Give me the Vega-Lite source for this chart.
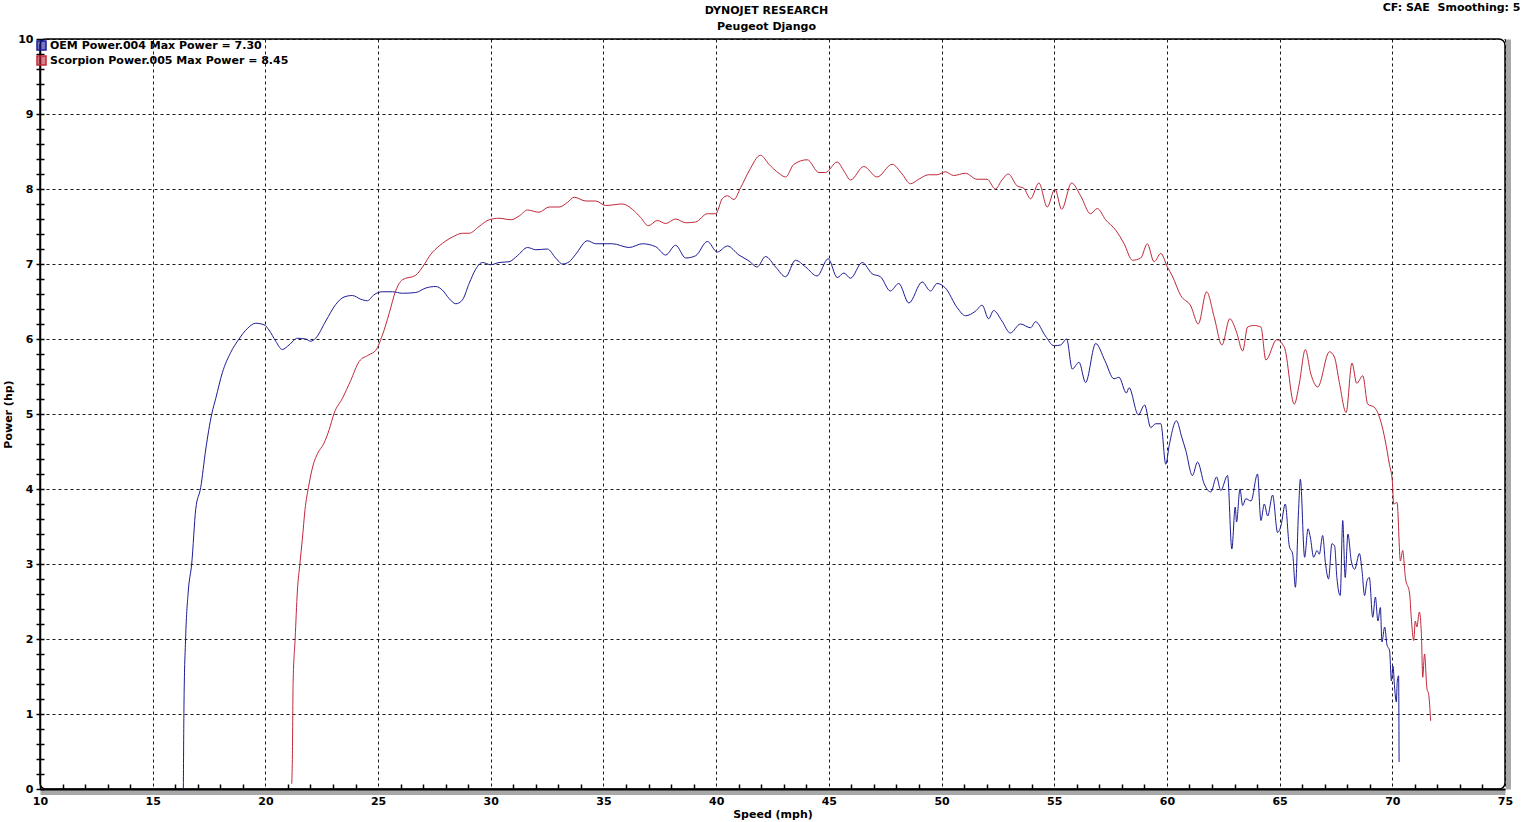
{
  "$schema": "https://vega.github.io/schema/vega-lite/v6.json",
  "description": "Dynojet power run, Peugeot Django: OEM vs Scorpion exhaust",
  "autosize": {"type": "none"},
  "width": 1465,
  "height": 750,
  "padding": {"left": 40, "top": 39, "right": 25, "bottom": 33},
  "background": "white",
  "title": {
    "text": ["DYNOJET RESEARCH", "Peugeot Django"],
    "anchor": "middle",
    "dx": -6,
    "offset": -31,
    "font": "DejaVu Sans",
    "fontSize": 11,
    "fontWeight": "bold",
    "lineHeight": 16,
    "color": "black"
  },
  "config": {
    "font": "DejaVu Sans",
    "view": {"stroke": "black", "strokeWidth": 1.5, "cornerRadius": 6, "fill": "white"}
  },
  "datasets": {
    "runs": [
      {"run": "OEM", "speed": 16.36, "power": 0},
      {"run": "OEM", "speed": 16.39, "power": 1.16},
      {"run": "OEM", "speed": 16.46, "power": 2.0},
      {"run": "OEM", "speed": 16.58, "power": 2.64},
      {"run": "OEM", "speed": 16.73, "power": 3.0},
      {"run": "OEM", "speed": 16.91, "power": 3.73},
      {"run": "OEM", "speed": 17.13, "power": 4.02},
      {"run": "OEM", "speed": 17.35, "power": 4.52},
      {"run": "OEM", "speed": 17.62, "power": 5.0},
      {"run": "OEM", "speed": 17.8, "power": 5.21},
      {"run": "OEM", "speed": 18.09, "power": 5.55},
      {"run": "OEM", "speed": 18.46, "power": 5.82},
      {"run": "OEM", "speed": 18.83, "power": 6.0},
      {"run": "OEM", "speed": 19.2, "power": 6.14},
      {"run": "OEM", "speed": 19.57, "power": 6.21},
      {"run": "OEM", "speed": 19.94, "power": 6.19},
      {"run": "OEM", "speed": 20.16, "power": 6.12},
      {"run": "OEM", "speed": 20.46, "power": 5.97},
      {"run": "OEM", "speed": 20.75, "power": 5.86},
      {"run": "OEM", "speed": 21.05, "power": 5.92},
      {"run": "OEM", "speed": 21.42, "power": 6.01},
      {"run": "OEM", "speed": 21.79, "power": 6.0},
      {"run": "OEM", "speed": 22.01, "power": 5.97},
      {"run": "OEM", "speed": 22.23, "power": 6.01},
      {"run": "OEM", "speed": 22.68, "power": 6.24},
      {"run": "OEM", "speed": 23.12, "power": 6.46},
      {"run": "OEM", "speed": 23.49, "power": 6.56},
      {"run": "OEM", "speed": 23.86, "power": 6.58},
      {"run": "OEM", "speed": 24.23, "power": 6.53},
      {"run": "OEM", "speed": 24.53, "power": 6.51},
      {"run": "OEM", "speed": 24.82, "power": 6.59},
      {"run": "OEM", "speed": 25.19, "power": 6.63},
      {"run": "OEM", "speed": 25.64, "power": 6.63},
      {"run": "OEM", "speed": 26.08, "power": 6.61},
      {"run": "OEM", "speed": 26.67, "power": 6.62},
      {"run": "OEM", "speed": 27.12, "power": 6.68},
      {"run": "OEM", "speed": 27.56, "power": 6.7},
      {"run": "OEM", "speed": 27.86, "power": 6.65},
      {"run": "OEM", "speed": 28.15, "power": 6.54},
      {"run": "OEM", "speed": 28.45, "power": 6.47},
      {"run": "OEM", "speed": 28.74, "power": 6.52},
      {"run": "OEM", "speed": 29.04, "power": 6.74},
      {"run": "OEM", "speed": 29.33, "power": 6.93},
      {"run": "OEM", "speed": 29.63, "power": 7.02},
      {"run": "OEM", "speed": 30.0, "power": 6.99},
      {"run": "OEM", "speed": 30.37, "power": 7.02},
      {"run": "OEM", "speed": 30.81, "power": 7.03},
      {"run": "OEM", "speed": 31.18, "power": 7.11},
      {"run": "OEM", "speed": 31.63, "power": 7.22},
      {"run": "OEM", "speed": 32.0, "power": 7.19},
      {"run": "OEM", "speed": 32.51, "power": 7.2},
      {"run": "OEM", "speed": 32.88, "power": 7.08},
      {"run": "OEM", "speed": 33.18, "power": 7.0},
      {"run": "OEM", "speed": 33.48, "power": 7.03},
      {"run": "OEM", "speed": 33.77, "power": 7.13},
      {"run": "OEM", "speed": 34.29, "power": 7.31},
      {"run": "OEM", "speed": 34.66, "power": 7.27},
      {"run": "OEM", "speed": 35.4, "power": 7.27},
      {"run": "OEM", "speed": 36.14, "power": 7.22},
      {"run": "OEM", "speed": 36.73, "power": 7.27},
      {"run": "OEM", "speed": 37.32, "power": 7.23},
      {"run": "OEM", "speed": 37.76, "power": 7.12},
      {"run": "OEM", "speed": 38.2, "power": 7.25},
      {"run": "OEM", "speed": 38.65, "power": 7.08},
      {"run": "OEM", "speed": 39.09, "power": 7.11},
      {"run": "OEM", "speed": 39.61, "power": 7.3},
      {"run": "OEM", "speed": 40.05, "power": 7.16},
      {"run": "OEM", "speed": 40.5, "power": 7.24},
      {"run": "OEM", "speed": 41.01, "power": 7.12},
      {"run": "OEM", "speed": 41.46, "power": 7.04},
      {"run": "OEM", "speed": 41.82, "power": 6.96},
      {"run": "OEM", "speed": 42.19, "power": 7.1},
      {"run": "OEM", "speed": 42.64, "power": 6.96},
      {"run": "OEM", "speed": 43.08, "power": 6.83},
      {"run": "OEM", "speed": 43.52, "power": 7.05},
      {"run": "OEM", "speed": 43.97, "power": 6.96},
      {"run": "OEM", "speed": 44.48, "power": 6.84},
      {"run": "OEM", "speed": 44.97, "power": 7.07},
      {"run": "OEM", "speed": 45.37, "power": 6.82},
      {"run": "OEM", "speed": 45.67, "power": 6.88},
      {"run": "OEM", "speed": 45.96, "power": 6.81},
      {"run": "OEM", "speed": 46.48, "power": 7.02},
      {"run": "OEM", "speed": 46.92, "power": 6.87},
      {"run": "OEM", "speed": 47.29, "power": 6.83},
      {"run": "OEM", "speed": 47.73, "power": 6.64},
      {"run": "OEM", "speed": 48.1, "power": 6.74},
      {"run": "OEM", "speed": 48.55, "power": 6.48},
      {"run": "OEM", "speed": 49.14, "power": 6.76},
      {"run": "OEM", "speed": 49.51, "power": 6.64},
      {"run": "OEM", "speed": 49.8, "power": 6.74},
      {"run": "OEM", "speed": 50.17, "power": 6.68},
      {"run": "OEM", "speed": 50.69, "power": 6.42},
      {"run": "OEM", "speed": 51.06, "power": 6.31},
      {"run": "OEM", "speed": 51.5, "power": 6.37},
      {"run": "OEM", "speed": 51.8, "power": 6.45},
      {"run": "OEM", "speed": 52.09, "power": 6.27},
      {"run": "OEM", "speed": 52.31, "power": 6.38},
      {"run": "OEM", "speed": 52.68, "power": 6.24},
      {"run": "OEM", "speed": 53.05, "power": 6.08},
      {"run": "OEM", "speed": 53.5, "power": 6.2},
      {"run": "OEM", "speed": 53.95, "power": 6.15},
      {"run": "OEM", "speed": 54.17, "power": 6.23},
      {"run": "OEM", "speed": 54.61, "power": 6.04},
      {"run": "OEM", "speed": 54.99, "power": 5.91},
      {"run": "OEM", "speed": 55.28, "power": 5.92},
      {"run": "OEM", "speed": 55.55, "power": 6.0},
      {"run": "OEM", "speed": 55.8, "power": 5.6},
      {"run": "OEM", "speed": 56.1, "power": 5.69},
      {"run": "OEM", "speed": 56.39, "power": 5.42},
      {"run": "OEM", "speed": 56.84, "power": 5.94},
      {"run": "OEM", "speed": 57.25, "power": 5.71},
      {"run": "OEM", "speed": 57.65, "power": 5.47},
      {"run": "OEM", "speed": 57.87, "power": 5.49},
      {"run": "OEM", "speed": 58.2, "power": 5.28},
      {"run": "OEM", "speed": 58.32, "power": 5.35},
      {"run": "OEM", "speed": 58.73, "power": 4.99},
      {"run": "OEM", "speed": 59.01, "power": 5.12},
      {"run": "OEM", "speed": 59.28, "power": 4.82},
      {"run": "OEM", "speed": 59.5, "power": 4.87},
      {"run": "OEM", "speed": 59.73, "power": 4.87},
      {"run": "OEM", "speed": 59.95, "power": 4.33},
      {"run": "OEM", "speed": 60.1, "power": 4.58},
      {"run": "OEM", "speed": 60.42, "power": 4.91},
      {"run": "OEM", "speed": 60.66, "power": 4.69},
      {"run": "OEM", "speed": 60.84, "power": 4.51},
      {"run": "OEM", "speed": 61.13, "power": 4.18},
      {"run": "OEM", "speed": 61.36, "power": 4.36},
      {"run": "OEM", "speed": 61.65, "power": 4.07},
      {"run": "OEM", "speed": 61.95, "power": 3.96},
      {"run": "OEM", "speed": 62.2, "power": 4.16},
      {"run": "OEM", "speed": 62.39, "power": 3.98},
      {"run": "OEM", "speed": 62.69, "power": 4.18},
      {"run": "OEM", "speed": 62.88, "power": 3.2},
      {"run": "OEM", "speed": 63.03, "power": 3.76},
      {"run": "OEM", "speed": 63.09, "power": 3.56},
      {"run": "OEM", "speed": 63.24, "power": 4.0},
      {"run": "OEM", "speed": 63.36, "power": 3.78},
      {"run": "OEM", "speed": 63.5, "power": 3.87},
      {"run": "OEM", "speed": 63.73, "power": 3.84},
      {"run": "OEM", "speed": 64.02, "power": 4.2},
      {"run": "OEM", "speed": 64.17, "power": 3.58},
      {"run": "OEM", "speed": 64.32, "power": 3.8},
      {"run": "OEM", "speed": 64.47, "power": 3.64},
      {"run": "OEM", "speed": 64.69, "power": 3.92},
      {"run": "OEM", "speed": 64.91, "power": 3.42},
      {"run": "OEM", "speed": 65.06, "power": 3.51},
      {"run": "OEM", "speed": 65.25, "power": 3.8},
      {"run": "OEM", "speed": 65.43, "power": 3.24},
      {"run": "OEM", "speed": 65.58, "power": 3.13},
      {"run": "OEM", "speed": 65.7, "power": 2.69},
      {"run": "OEM", "speed": 65.84, "power": 3.71},
      {"run": "OEM", "speed": 65.92, "power": 4.13},
      {"run": "OEM", "speed": 66.11, "power": 3.09},
      {"run": "OEM", "speed": 66.26, "power": 3.47},
      {"run": "OEM", "speed": 66.36, "power": 3.36},
      {"run": "OEM", "speed": 66.51, "power": 3.09},
      {"run": "OEM", "speed": 66.66, "power": 3.18},
      {"run": "OEM", "speed": 66.76, "power": 3.13},
      {"run": "OEM", "speed": 66.91, "power": 3.38},
      {"run": "OEM", "speed": 67.03, "power": 3.02},
      {"run": "OEM", "speed": 67.17, "power": 2.8},
      {"run": "OEM", "speed": 67.32, "power": 3.27},
      {"run": "OEM", "speed": 67.44, "power": 3.24},
      {"run": "OEM", "speed": 67.54, "power": 2.82},
      {"run": "OEM", "speed": 67.69, "power": 2.58},
      {"run": "OEM", "speed": 67.8, "power": 3.58},
      {"run": "OEM", "speed": 67.91, "power": 2.82},
      {"run": "OEM", "speed": 68.03, "power": 3.4},
      {"run": "OEM", "speed": 68.18, "power": 3.04},
      {"run": "OEM", "speed": 68.33, "power": 2.93},
      {"run": "OEM", "speed": 68.54, "power": 3.14},
      {"run": "OEM", "speed": 68.65, "power": 2.93},
      {"run": "OEM", "speed": 68.77, "power": 2.58},
      {"run": "OEM", "speed": 68.88, "power": 2.78},
      {"run": "OEM", "speed": 68.98, "power": 2.82},
      {"run": "OEM", "speed": 69.13, "power": 2.29},
      {"run": "OEM", "speed": 69.25, "power": 2.56},
      {"run": "OEM", "speed": 69.36, "power": 2.24},
      {"run": "OEM", "speed": 69.47, "power": 2.42},
      {"run": "OEM", "speed": 69.54, "power": 1.96},
      {"run": "OEM", "speed": 69.66, "power": 2.16},
      {"run": "OEM", "speed": 69.76, "power": 1.93},
      {"run": "OEM", "speed": 69.88, "power": 1.84},
      {"run": "OEM", "speed": 69.96, "power": 1.44},
      {"run": "OEM", "speed": 70.03, "power": 1.64},
      {"run": "OEM", "speed": 70.1, "power": 1.36},
      {"run": "OEM", "speed": 70.18, "power": 1.16},
      {"run": "OEM", "speed": 70.22, "power": 1.44},
      {"run": "OEM", "speed": 70.28, "power": 1.51},
      {"run": "OEM", "speed": 70.3, "power": 0.36},
      {"run": "Scorpion", "speed": 21.17, "power": 0.07},
      {"run": "Scorpion", "speed": 21.2, "power": 0.47},
      {"run": "Scorpion", "speed": 21.23, "power": 1.41},
      {"run": "Scorpion", "speed": 21.32, "power": 2.0},
      {"run": "Scorpion", "speed": 21.42, "power": 2.64},
      {"run": "Scorpion", "speed": 21.53, "power": 3.0},
      {"run": "Scorpion", "speed": 21.64, "power": 3.33},
      {"run": "Scorpion", "speed": 21.76, "power": 3.73},
      {"run": "Scorpion", "speed": 21.91, "power": 4.02},
      {"run": "Scorpion", "speed": 22.12, "power": 4.32},
      {"run": "Scorpion", "speed": 22.31, "power": 4.47},
      {"run": "Scorpion", "speed": 22.6, "power": 4.61},
      {"run": "Scorpion", "speed": 22.83, "power": 4.79},
      {"run": "Scorpion", "speed": 23.05, "power": 5.01},
      {"run": "Scorpion", "speed": 23.42, "power": 5.21},
      {"run": "Scorpion", "speed": 23.79, "power": 5.45},
      {"run": "Scorpion", "speed": 24.16, "power": 5.7},
      {"run": "Scorpion", "speed": 24.6, "power": 5.79},
      {"run": "Scorpion", "speed": 24.9, "power": 5.85},
      {"run": "Scorpion", "speed": 25.19, "power": 6.05},
      {"run": "Scorpion", "speed": 25.49, "power": 6.34},
      {"run": "Scorpion", "speed": 25.78, "power": 6.64},
      {"run": "Scorpion", "speed": 26.08, "power": 6.79},
      {"run": "Scorpion", "speed": 26.67, "power": 6.85},
      {"run": "Scorpion", "speed": 27.04, "power": 6.99},
      {"run": "Scorpion", "speed": 27.34, "power": 7.13},
      {"run": "Scorpion", "speed": 27.71, "power": 7.24},
      {"run": "Scorpion", "speed": 28.3, "power": 7.36},
      {"run": "Scorpion", "speed": 28.74, "power": 7.41},
      {"run": "Scorpion", "speed": 29.04, "power": 7.41},
      {"run": "Scorpion", "speed": 29.48, "power": 7.5},
      {"run": "Scorpion", "speed": 29.93, "power": 7.59},
      {"run": "Scorpion", "speed": 30.37, "power": 7.61},
      {"run": "Scorpion", "speed": 30.89, "power": 7.59},
      {"run": "Scorpion", "speed": 31.26, "power": 7.64},
      {"run": "Scorpion", "speed": 31.63, "power": 7.72},
      {"run": "Scorpion", "speed": 32.14, "power": 7.69},
      {"run": "Scorpion", "speed": 32.59, "power": 7.76},
      {"run": "Scorpion", "speed": 33.03, "power": 7.76},
      {"run": "Scorpion", "speed": 33.4, "power": 7.82},
      {"run": "Scorpion", "speed": 33.7, "power": 7.89},
      {"run": "Scorpion", "speed": 34.22, "power": 7.84},
      {"run": "Scorpion", "speed": 34.66, "power": 7.84},
      {"run": "Scorpion", "speed": 35.1, "power": 7.78},
      {"run": "Scorpion", "speed": 35.84, "power": 7.8},
      {"run": "Scorpion", "speed": 36.28, "power": 7.73},
      {"run": "Scorpion", "speed": 36.65, "power": 7.62},
      {"run": "Scorpion", "speed": 36.99, "power": 7.51},
      {"run": "Scorpion", "speed": 37.39, "power": 7.58},
      {"run": "Scorpion", "speed": 37.76, "power": 7.54},
      {"run": "Scorpion", "speed": 38.2, "power": 7.6},
      {"run": "Scorpion", "speed": 38.65, "power": 7.55},
      {"run": "Scorpion", "speed": 39.09, "power": 7.56},
      {"run": "Scorpion", "speed": 39.61, "power": 7.67},
      {"run": "Scorpion", "speed": 39.98, "power": 7.67},
      {"run": "Scorpion", "speed": 40.27, "power": 7.87},
      {"run": "Scorpion", "speed": 40.5, "power": 7.91},
      {"run": "Scorpion", "speed": 40.79, "power": 7.86},
      {"run": "Scorpion", "speed": 41.09, "power": 8.02},
      {"run": "Scorpion", "speed": 41.46, "power": 8.24},
      {"run": "Scorpion", "speed": 41.97, "power": 8.45},
      {"run": "Scorpion", "speed": 42.34, "power": 8.33},
      {"run": "Scorpion", "speed": 42.78, "power": 8.21},
      {"run": "Scorpion", "speed": 43.08, "power": 8.16},
      {"run": "Scorpion", "speed": 43.45, "power": 8.33},
      {"run": "Scorpion", "speed": 44.04, "power": 8.39},
      {"run": "Scorpion", "speed": 44.56, "power": 8.22},
      {"run": "Scorpion", "speed": 44.85, "power": 8.22},
      {"run": "Scorpion", "speed": 45.37, "power": 8.36},
      {"run": "Scorpion", "speed": 45.67, "power": 8.24},
      {"run": "Scorpion", "speed": 45.96, "power": 8.12},
      {"run": "Scorpion", "speed": 46.55, "power": 8.3},
      {"run": "Scorpion", "speed": 47.14, "power": 8.16},
      {"run": "Scorpion", "speed": 47.81, "power": 8.33},
      {"run": "Scorpion", "speed": 48.25, "power": 8.2},
      {"run": "Scorpion", "speed": 48.62, "power": 8.07},
      {"run": "Scorpion", "speed": 48.99, "power": 8.13},
      {"run": "Scorpion", "speed": 49.43, "power": 8.19},
      {"run": "Scorpion", "speed": 49.8, "power": 8.19},
      {"run": "Scorpion", "speed": 50.17, "power": 8.23},
      {"run": "Scorpion", "speed": 50.54, "power": 8.18},
      {"run": "Scorpion", "speed": 51.06, "power": 8.21},
      {"run": "Scorpion", "speed": 51.57, "power": 8.13},
      {"run": "Scorpion", "speed": 52.02, "power": 8.13},
      {"run": "Scorpion", "speed": 52.39, "power": 8.0},
      {"run": "Scorpion", "speed": 52.68, "power": 8.12},
      {"run": "Scorpion", "speed": 52.96, "power": 8.2},
      {"run": "Scorpion", "speed": 53.36, "power": 8.04},
      {"run": "Scorpion", "speed": 53.65, "power": 8.01},
      {"run": "Scorpion", "speed": 53.95, "power": 7.87},
      {"run": "Scorpion", "speed": 54.32, "power": 8.08},
      {"run": "Scorpion", "speed": 54.69, "power": 7.76},
      {"run": "Scorpion", "speed": 55.03, "power": 8.0},
      {"run": "Scorpion", "speed": 55.33, "power": 7.73},
      {"run": "Scorpion", "speed": 55.77, "power": 8.08},
      {"run": "Scorpion", "speed": 56.17, "power": 7.91},
      {"run": "Scorpion", "speed": 56.61, "power": 7.67},
      {"run": "Scorpion", "speed": 56.91, "power": 7.74},
      {"run": "Scorpion", "speed": 57.28, "power": 7.59},
      {"run": "Scorpion", "speed": 57.73, "power": 7.45},
      {"run": "Scorpion", "speed": 58.1, "power": 7.27},
      {"run": "Scorpion", "speed": 58.47, "power": 7.05},
      {"run": "Scorpion", "speed": 58.84, "power": 7.08},
      {"run": "Scorpion", "speed": 59.13, "power": 7.27},
      {"run": "Scorpion", "speed": 59.43, "power": 7.03},
      {"run": "Scorpion", "speed": 59.73, "power": 7.14},
      {"run": "Scorpion", "speed": 60.02, "power": 6.96},
      {"run": "Scorpion", "speed": 60.24, "power": 6.84},
      {"run": "Scorpion", "speed": 60.61, "power": 6.58},
      {"run": "Scorpion", "speed": 61.06, "power": 6.44},
      {"run": "Scorpion", "speed": 61.39, "power": 6.2},
      {"run": "Scorpion", "speed": 61.76, "power": 6.63},
      {"run": "Scorpion", "speed": 62.1, "power": 6.29},
      {"run": "Scorpion", "speed": 62.44, "power": 5.92},
      {"run": "Scorpion", "speed": 62.79, "power": 6.27},
      {"run": "Scorpion", "speed": 63.09, "power": 6.09},
      {"run": "Scorpion", "speed": 63.36, "power": 5.84},
      {"run": "Scorpion", "speed": 63.58, "power": 6.16},
      {"run": "Scorpion", "speed": 63.87, "power": 6.18},
      {"run": "Scorpion", "speed": 64.17, "power": 6.16},
      {"run": "Scorpion", "speed": 64.39, "power": 5.72},
      {"run": "Scorpion", "speed": 64.87, "power": 5.99},
      {"run": "Scorpion", "speed": 65.21, "power": 5.89},
      {"run": "Scorpion", "speed": 65.65, "power": 5.13},
      {"run": "Scorpion", "speed": 65.87, "power": 5.4},
      {"run": "Scorpion", "speed": 66.14, "power": 5.86},
      {"run": "Scorpion", "speed": 66.39, "power": 5.53},
      {"run": "Scorpion", "speed": 66.69, "power": 5.36},
      {"run": "Scorpion", "speed": 67.21, "power": 5.83},
      {"run": "Scorpion", "speed": 67.43, "power": 5.76},
      {"run": "Scorpion", "speed": 67.65, "power": 5.42},
      {"run": "Scorpion", "speed": 67.95, "power": 5.02},
      {"run": "Scorpion", "speed": 68.21, "power": 5.68},
      {"run": "Scorpion", "speed": 68.42, "power": 5.41},
      {"run": "Scorpion", "speed": 68.69, "power": 5.51},
      {"run": "Scorpion", "speed": 68.91, "power": 5.13},
      {"run": "Scorpion", "speed": 69.2, "power": 5.09},
      {"run": "Scorpion", "speed": 69.5, "power": 4.89},
      {"run": "Scorpion", "speed": 69.69, "power": 4.64},
      {"run": "Scorpion", "speed": 69.87, "power": 4.33},
      {"run": "Scorpion", "speed": 70.0, "power": 4.11},
      {"run": "Scorpion", "speed": 70.06, "power": 3.8},
      {"run": "Scorpion", "speed": 70.21, "power": 3.82},
      {"run": "Scorpion", "speed": 70.36, "power": 3.04},
      {"run": "Scorpion", "speed": 70.46, "power": 3.18},
      {"run": "Scorpion", "speed": 70.58, "power": 2.82},
      {"run": "Scorpion", "speed": 70.77, "power": 2.6},
      {"run": "Scorpion", "speed": 70.84, "power": 2.29},
      {"run": "Scorpion", "speed": 70.95, "power": 1.98},
      {"run": "Scorpion", "speed": 71.02, "power": 2.24},
      {"run": "Scorpion", "speed": 71.09, "power": 2.16},
      {"run": "Scorpion", "speed": 71.2, "power": 2.36},
      {"run": "Scorpion", "speed": 71.29, "power": 2.07},
      {"run": "Scorpion", "speed": 71.35, "power": 1.49},
      {"run": "Scorpion", "speed": 71.43, "power": 1.8},
      {"run": "Scorpion", "speed": 71.54, "power": 1.33},
      {"run": "Scorpion", "speed": 71.61, "power": 1.27},
      {"run": "Scorpion", "speed": 71.7, "power": 0.91}
    ]
  },
  "data": {"name": "runs"},
  "layer": [
    {
      "mark": {"type": "point", "opacity": 0},
      "encoding": {
        "x": {
          "field": "speed", "type": "quantitative",
          "axis": {"orient": "bottom", "offset": 3, "domainColor": "#a8a8a8", "domainWidth": 5,
                   "labels": false, "ticks": false, "grid": false, "title": null}
        },
        "y": {
          "field": "power", "type": "quantitative",
          "axis": {"orient": "right", "offset": 3, "domainColor": "#a8a8a8", "domainWidth": 5,
                   "labels": false, "ticks": false, "grid": false, "title": null}
        }
      }
    },
    {
      "mark": {"type": "line", "strokeWidth": 1, "interpolate": "monotone"},
      "encoding": {
        "x": {
          "field": "speed", "type": "quantitative",
          "scale": {"domain": [10, 75], "nice": false, "zero": false},
          "axis": {
            "orient": "bottom",
            "values": [10, 15, 20, 25, 30, 35, 40, 45, 50, 55, 60, 65, 70, 75],
            "title": "Speed (mph)",
            "titleFontSize": 11, "titleFontWeight": "bold", "titleColor": "black", "titlePadding": 2,
            "labelFontSize": 11, "labelFontWeight": "bold", "labelColor": "black", "labelPadding": 6,
            "labelFlush": false,
            "domainColor": "black", "domainWidth": 2, "ticks": false,
            "grid": true, "gridColor": "black", "gridDash": [3, 3], "gridWidth": 1, "gridOpacity": 0.9
          }
        },
        "y": {
          "field": "power", "type": "quantitative",
          "scale": {"domain": [0, 10], "nice": false},
          "axis": {
            "orient": "left",
            "values": [0, 1, 2, 3, 4, 5, 6, 7, 8, 9, 10],
            "title": "Power (hp)",
            "titleFontSize": 11, "titleFontWeight": "bold", "titleColor": "black", "titlePadding": 4,
            "labelFontSize": 11, "labelFontWeight": "bold", "labelColor": "black", "labelPadding": 7,
            "labelFlush": false,
            "domainColor": "black", "domainWidth": 1.5, "ticks": false,
            "grid": true, "gridColor": "black", "gridDash": [3, 3], "gridWidth": 1, "gridOpacity": 0.9
          }
        },
        "color": {
          "field": "run", "type": "nominal",
          "scale": {"domain": ["OEM", "Scorpion"], "range": ["#1c1c96", "#c0283a"]},
          "legend": {
            "title": null,
            "orient": "none",
            "legendX": -4,
            "legendY": 1,
            "padding": 0,
            "symbolType": "square",
            "symbolSize": 81,
            "symbolStrokeWidth": 1.5,
            "labelFontSize": 11,
            "labelFontWeight": "bold",
            "labelColor": "black",
            "labelOffset": 3,
            "labelLimit": 0,
            "rowPadding": 0,
            "labelExpr": "datum.label == 'OEM' ? 'OEM Power.004 Max Power = 7.30' : 'Scorpion Power.005 Max Power = 8.45'",
            "encode": {
              "symbols": {"update": {"fill": {"scale": "color", "field": "value"}, "fillOpacity": {"value": 0.6}}}
            }
          }
        }
      }
    },
    {
      "mark": {"type": "point", "opacity": 0},
      "encoding": {
        "x": {
          "field": "speed", "type": "quantitative",
          "axis": {"orient": "bottom", "offset": -5, "domain": false, "labels": false, "grid": false,
                   "title": null, "tickSize": 5, "tickColor": "black", "tickWidth": 1.5,
                   "values": [11, 12, 13, 14, 16, 17, 18, 19, 21, 22, 23, 24, 26, 27, 28, 29, 31, 32, 33, 34, 36, 37, 38, 39, 41, 42, 43, 44, 46, 47, 48, 49, 51, 52, 53, 54, 56, 57, 58, 59, 61, 62, 63, 64, 66, 67, 68, 69, 71, 72, 73, 74]}
        },
        "y": {
          "field": "power", "type": "quantitative",
          "axis": {"orient": "left", "offset": -4, "domain": false, "labels": false, "grid": false,
                   "title": null, "tickSize": 8, "tickColor": "black", "tickWidth": 1.5,
                   "values": [0, 0.2, 0.4, 0.6, 0.8, 1, 1.2, 1.4, 1.6, 1.8, 2, 2.2, 2.4, 2.6, 2.8, 3, 3.2, 3.4, 3.6, 3.8, 4, 4.2, 4.4, 4.6, 4.8, 5, 5.2, 5.4, 5.6, 5.8, 6, 6.2, 6.4, 6.6, 6.8, 7, 7.2, 7.4, 7.6, 7.8, 8, 8.2, 8.4, 8.6, 8.8, 9, 9.2, 9.4, 9.6, 9.8, 10]}
        }
      }
    },
    {
      "mark": {"type": "point", "opacity": 0},
      "encoding": {
        "x": {
          "field": "speed", "type": "quantitative",
          "axis": {"orient": "top", "domain": false, "labels": false, "ticks": false, "grid": false,
                   "title": "CF: SAE \u00a0Smoothing: 5",
                   "titleFontSize": 11, "titleFontWeight": "bold", "titleColor": "black",
                   "titleAnchor": "end", "titleAlign": "right", "titleBaseline": "alphabetic",
                   "titleX": 1480, "titleY": -29}
        }
      }
    }
  ],
  "resolve": {"axis": {"x": "independent", "y": "independent"}}
}
